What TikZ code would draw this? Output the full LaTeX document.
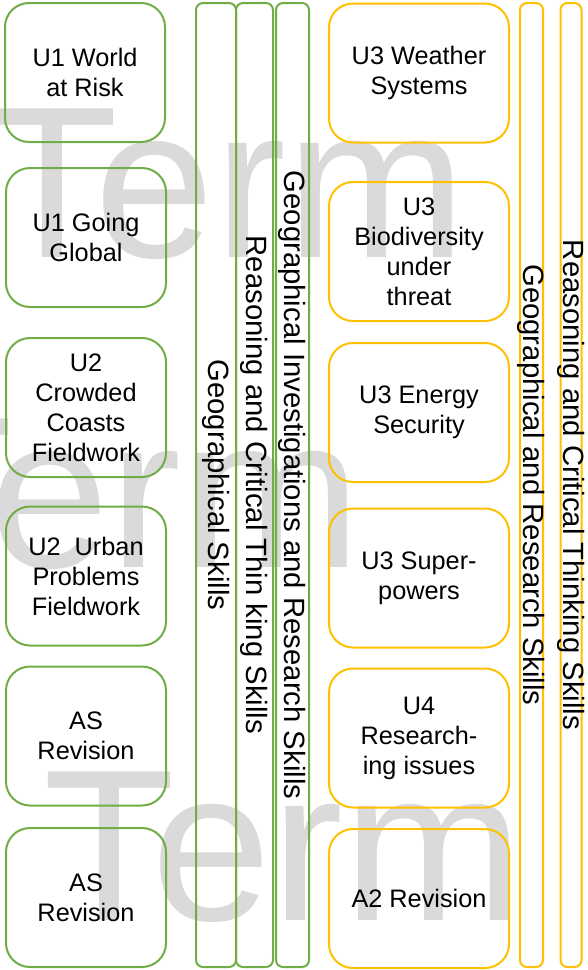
\documentclass[tikz,border=0pt]{standalone}
\usepackage{fontspec}
\setmainfont{Liberation Sans}
\definecolor{ggreen}{RGB}{112,173,71}
\definecolor{ggold}{RGB}{255,192,0}
\definecolor{wmark}{RGB}{218,218,218}
\begin{document}
\begin{tikzpicture}[x=1pt,y=-1pt,
  wm/.style={anchor=base west,inner sep=0pt,text=wmark,font=\fontsize{216}{216}\selectfont},
  unitbox/.style={draw,line width=2pt,rounded corners=24pt,align=center,
    minimum width=160pt,minimum height=139pt,inner sep=0pt,
    font=\fontsize{25.3}{30}\selectfont},
  gbox/.style={unitbox,draw=ggreen},
  ybox/.style={unitbox,draw=ggold,minimum width=180pt},
  skillbar/.style={draw,line width=2pt,rounded corners=7pt,inner sep=0pt,minimum height=964pt},
  bartext/.style={rotate=-90,inner sep=0pt,font=\fontsize{29.3}{30}\selectfont}]
\useasboundingbox (0,0) rectangle (587,970);
% watermark
\node[wm] (wm1) at (-14,257) {Term};
\node[wm] (wm2) at (-119,567) {Term};
\node[wm] (wm3) at (43,920) {Term};
% left boxes
\node[gbox] (b1) at (85,72.5) {U1 World\\at Risk};
\node[gbox] (b2) at (86,237.5) {U1 Going\\Global};
\node[gbox] (b3) at (86,407.5) {U2\\Crowded\\Coasts\\Fieldwork};
\node[gbox] (b4) at (86,576) {U2~~Urban\\Problems\\Fieldwork};
\node[gbox] (b5) at (86,736) {AS\\Revision};
\node[gbox] (b6) at (86,897.5) {AS\\Revision};
% green bars
\node[skillbar,draw=ggreen,minimum width=40pt] (g1) at (216,485) {};
\node[skillbar,draw=ggreen,minimum width=37pt] (g2) at (254.5,485) {};
\node[skillbar,draw=ggreen,minimum width=33pt] (g3) at (292.5,485) {};
\node[bartext] at (g1.center) {Geographical Skills};
\node[bartext] at (g2.center) {Reasoning and Critical Thin king Skills};
\node[bartext] at (g3.center) {Geographical Investigations and Research Skills};
% right boxes
\node[ybox] (c1) at (419,73) {U3 Weather\\Systems};
\node[ybox] (c2) at (419,251.5) {U3\\Biodiversity\\under\\threat};
\node[ybox] (c3) at (419,412.5) {U3 Energy\\Security};
\node[ybox] (c4) at (419,578) {U3 Super-\\powers};
\node[ybox] (c5) at (419,738) {U4\\Research-\\ing issues};
\node[ybox] (c6) at (419,898.5) {A2 Revision};
% yellow bars
\node[skillbar,draw=ggold,minimum width=23pt] (y1) at (531.5,485) {};
\node[skillbar,draw=ggold,minimum width=21pt] (y2) at (571,485) {};
\node[bartext] at (y1.center) {Geographical and Research Skills};
\node[bartext] at (y2.center) {Reasoning and Critical Thinking Skills};
\end{tikzpicture}
\end{document}
